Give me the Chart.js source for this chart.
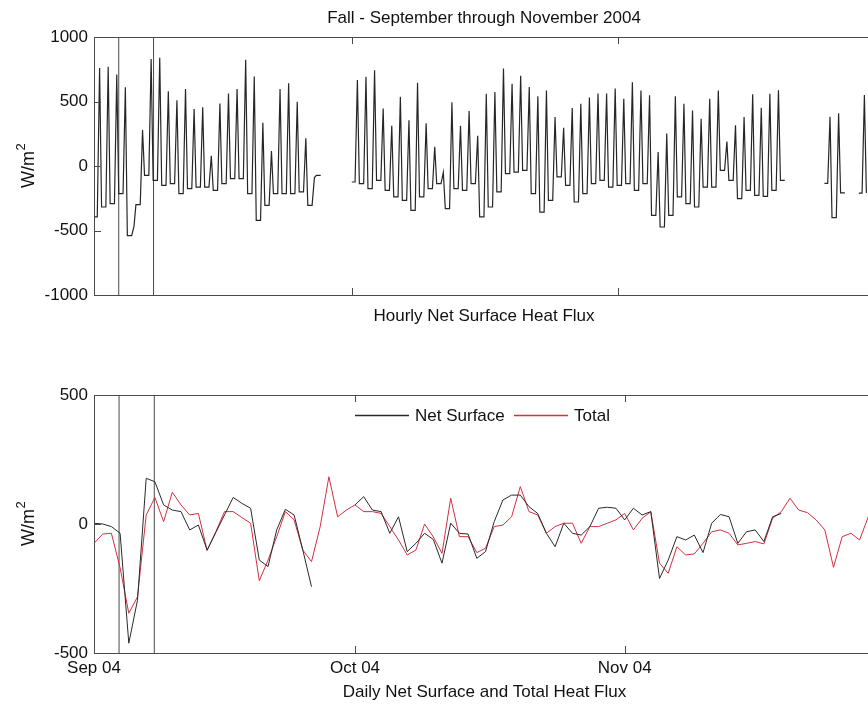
<!DOCTYPE html>
<html>
<head>
<meta charset="utf-8">
<script src="https://cdn.jsdelivr.net/npm/chart.js@4.4.1/dist/chart.umd.min.js"></script>
<style>
  html, body { margin: 0; padding: 0; background: #fff; width: 868px; height: 706px; overflow: hidden; }
  canvas { position: absolute; left: 0; }
  #hourly { top: 0; }
  #daily { top: 340px; }
</style>
</head>
<body>
<canvas id="hourly" width="900" height="340"></canvas>
<canvas id="daily" width="900" height="366"></canvas>
<script>
// Day 0 = 1 Sep 2004. Values in W/m^2; null = no data.

// Hourly net surface heat flux: night level before each day's peak, and the midday peak
const nightLow = [
  -395, -318, -292, -214, -540, -300, -72, -111, -150, -137,
  -214, -176, -163, -163, -189, -137, -98, -98, -214, -421,
  -305, -214, -214, -214, -200, -305, -72, null, null, null,
  -124, -137, -176, -111, -189, -240, -266, -344, -240, -176,
  -137, -330, -176, -189, -137, -395, -318, -200, -59, -47,
  -34, -214, -357, -266, -85, -150, -279, -214, -137, -111,
  -163, -150, -137, -189, -137, -382, -473, -382, -240, -292,
  -318, -163, -163, -34, -111, -253, -189, -227, -235, -189,
  -111, null, null, null, null, -134, -400, -209, null, -210,
  null
];
const middayPeak = [
  760, 770, 710, 610, -470, 278, 830, 840, 580, 510,
  597, 442, 456, 80, 485, 562, 597, 823, 694, 335,
  116, 597, 642, 497, 215, -90, null, null, null, null,
  666, 692, 743, 446, 312, 536, 355, 645, 332, 149,
  -50, 494, 312, 426, 235, 560, 574, 756, 638, 700,
  612, 540, 586, 380, 297, 450, 483, 530, 561, 561,
  600, 522, 650, 586, 548, 109, 251, 540, 483, 431,
  367, 522, 586, 190, 315, 380, 556, 452, 560, 588,
  null, null, null, null, null, 382, 408, null, null, 550,
  null
];

// Daily means
const dailyNetSurface = [
  3, 0, -10, -36, -462, -295, 177, 164, 74, 54,
  48, -23, -4, -101, -33, 35, 103, 80, 61, -140,
  -165, -23, 57, 35, -101, -243, null, null, null, null,
  74, 106, 54, 48, -36, 28, -107, -75, -36, -60,
  -152, 3, -36, -39, -133, -107, 9, 93, 112, 112,
  67, 41, -36, -88, 3, -36, -43, -10, 61, 65,
  61, 16, 61, 35, 48, -211, -140, -49, -62, -43,
  -111, 3, 37, 28, -75, -30, -23, -68, 28, 41
];
const dailyTotal = [
  -75, -39, -36, -170, -346, -282, 35, 103, 9, 123,
  74, 35, 41, -103, -30, 48, 48, 25, 3, -220,
  -140, -49, 48, 16, -101, -146, -10, 183, 28, 54,
  74, 48, 48, 41, -10, -62, -120, -101, 0, -50,
  -114, 100, -49, -49, -111, -94, -10, -4, 28, 145,
  48, 35, -36, -10, 3, 3, -75, -10, -10, 3,
  16, 41, -23, 22, 48, -152, -191, -88, -120, -116,
  -75, -30, -23, -36, -81, -75, -68, -77, 22, 48,
  100, 54, 44, 16, -23, -168, -49, -36, -62, 28
];

// Event markers (days)
const markerDays = [2.88, 6.93];

// Axis ticks
const hourlyYTicks = [-1000, -500, 0, 500, 1000];
const dailyYTicks = [-500, 0, 500];
const monthTickDays = [0, 30, 61];
const monthTickLabels = ['Sep 04', 'Oct 04', 'Nov 04'];

const FONT = 'Liberation Sans, Arial, sans-serif';
const FRAME = '#4a4a4a';
const NET_COLOR = '#2a2a2a';
const TOTAL_COLOR = '#d3303f';

// Build the hourly trace: flat night, sharp midday spike
const hourlyPoints = [];
for (let d = 0; d < nightLow.length; d++) {
  const lo = nightLow[d];
  if (lo === null) { hourlyPoints.push({ x: d, y: null }); continue; }
  hourlyPoints.push({ x: d, y: lo }, { x: d + 0.38, y: lo });
  const pk = middayPeak[d];
  if (pk !== null) {
    const next = nightLow[d + 1];
    hourlyPoints.push({ x: d + 0.65, y: pk }, { x: d + 0.88, y: next ?? lo });
  }
}
const toPoints = arr => arr.map((v, k) => ({ x: k, y: v }));

function markerSets(yMin, yMax) {
  return markerDays.map(d => ({
    label: 'marker',
    data: [{ x: d, y: yMin }, { x: d, y: yMax }],
    borderColor: FRAME, borderWidth: 1, pointRadius: 0
  }));
}

// Boxed axes with inward ticks, titles and an optional line legend
function boxedAxes(cfg) {
  return {
    id: 'boxedAxes',
    afterDraw(chart) {
      const { ctx, chartArea: a, scales } = chart;
      ctx.save();
      ctx.strokeStyle = FRAME;
      ctx.lineWidth = 1;
      ctx.strokeRect(Math.round(a.left) + 0.5, Math.round(a.top) + 0.5,
                     Math.round(a.right - a.left), Math.round(a.bottom - a.top));
      ctx.beginPath();
      for (const d of cfg.xTicks) {
        const px = Math.round(scales.x.getPixelForValue(d)) + 0.5;
        ctx.moveTo(px, a.top); ctx.lineTo(px, a.top + 7);
        ctx.moveTo(px, a.bottom); ctx.lineTo(px, a.bottom - 7);
      }
      for (const t of scales.y.ticks) {
        const py = Math.round(scales.y.getPixelForValue(t.value)) + 0.5;
        ctx.moveTo(a.left, py); ctx.lineTo(a.left + 7, py);
        ctx.moveTo(a.right, py); ctx.lineTo(a.right - 7, py);
      }
      ctx.stroke();

      ctx.fillStyle = '#111';
      ctx.font = '17px ' + FONT;
      ctx.textAlign = 'center';
      ctx.textBaseline = 'alphabetic';
      const cx = (a.left + a.right) / 2 - 1;
      if (cfg.title) ctx.fillText(cfg.title, cx, cfg.titleY);
      if (cfg.xTitle) ctx.fillText(cfg.xTitle, cx, cfg.xTitleY);

      // y-axis unit, W/m with raised 2
      ctx.save();
      ctx.translate(34, (a.top + a.bottom) / 2);
      ctx.rotate(-Math.PI / 2);
      ctx.textAlign = 'left';
      ctx.font = '18px ' + FONT;
      const base = ctx.measureText('W/m').width;
      ctx.font = '13px ' + FONT;
      const sup = ctx.measureText('2').width;
      const start = -(base + sup) / 2;
      ctx.font = '18px ' + FONT;
      ctx.fillText('W/m', start, 0);
      ctx.font = '13px ' + FONT;
      ctx.fillText('2', start + base + 0.5, -9);
      ctx.restore();

      if (cfg.legend) {
        let x = Math.round(a.left + 261);
        const y = Math.round(a.top + 20);
        ctx.textAlign = 'left';
        ctx.textBaseline = 'middle';
        ctx.font = '17px ' + FONT;
        for (const item of cfg.legend) {
          ctx.fillStyle = item.color;
          ctx.fillRect(x, y - 0.25, 54, 1.5);
          x += 60;
          ctx.fillStyle = '#111';
          ctx.fillText(item.label, x, y + 1);
          x += Math.round(ctx.measureText(item.label).width) + 9;
        }
      }
      ctx.restore();
    }
  };
}

const tickFont = { family: FONT, size: 17 };
const plainNumber = v => String(v);
const noGrid = { display: false, drawTicks: false };

new Chart(document.getElementById('hourly'), {
  type: 'line',
  data: {
    datasets: [
      { label: 'Hourly Net Surface', data: hourlyPoints, borderColor: '#262626',
        borderWidth: 1.2, pointRadius: 0, spanGaps: false },
      ...markerSets(-1000, 1000)
    ]
  },
  options: {
    responsive: false, animation: false, devicePixelRatio: 1,
    layout: { padding: { left: 0, top: 37, right: 24, bottom: 45 } },
    elements: { line: { tension: 0 } },
    scales: {
      x: { type: 'linear', min: 0, max: 91,
           ticks: { display: false }, grid: noGrid, border: { display: false },
           afterFit(axis) { axis.height = 0; } },
      y: { type: 'linear', min: -1000, max: 1000,
           afterBuildTicks(axis) { axis.ticks = hourlyYTicks.map(v => ({ value: v })); },
           ticks: { font: tickFont, color: '#111', padding: 6, callback: plainNumber },
           grid: noGrid, border: { display: false },
           afterFit(axis) { axis.width = 94; } }
    },
    plugins: { legend: { display: false }, tooltip: { enabled: false } }
  },
  plugins: [boxedAxes({
    xTicks: [30, 61],
    title: 'Fall - September through November 2004', titleY: 23,
    xTitle: 'Hourly Net Surface Heat Flux', xTitleY: 321
  })]
});

new Chart(document.getElementById('daily'), {
  type: 'line',
  data: {
    datasets: [
      { label: 'Net Surface', data: toPoints(dailyNetSurface), borderColor: NET_COLOR,
        borderWidth: 1, pointRadius: 0, spanGaps: false },
      { label: 'Total', data: toPoints(dailyTotal), borderColor: TOTAL_COLOR,
        borderWidth: 1, pointRadius: 0, spanGaps: false },
      ...markerSets(-500, 500)
    ]
  },
  options: {
    responsive: false, animation: false, devicePixelRatio: 1,
    layout: { padding: { left: 0, top: 55, right: 23, bottom: 23 } },
    elements: { line: { tension: 0 } },
    scales: {
      x: { type: 'linear', min: 0, max: 90,
           afterBuildTicks(axis) { axis.ticks = monthTickDays.map(v => ({ value: v })); },
           ticks: { font: tickFont, color: '#111', padding: 5, autoSkip: false, maxRotation: 0,
                    callback(v) { const i = monthTickDays.indexOf(v); return i >= 0 ? monthTickLabels[i] : ''; } },
           grid: noGrid, border: { display: false },
           afterFit(axis) { axis.height = 30; } },
      y: { type: 'linear', min: -500, max: 500,
           afterBuildTicks(axis) { axis.ticks = dailyYTicks.map(v => ({ value: v })); },
           ticks: { font: tickFont, color: '#111', padding: 6, callback: plainNumber },
           grid: noGrid, border: { display: false },
           afterFit(axis) { axis.width = 94; } }
    },
    plugins: { legend: { display: false }, tooltip: { enabled: false } }
  },
  plugins: [boxedAxes({
    xTicks: [30, 61],
    xTitle: 'Daily Net Surface and Total Heat Flux', xTitleY: 357,
    legend: [{ label: 'Net Surface', color: NET_COLOR }, { label: 'Total', color: TOTAL_COLOR }]
  })]
});
</script>
</body>
</html>
